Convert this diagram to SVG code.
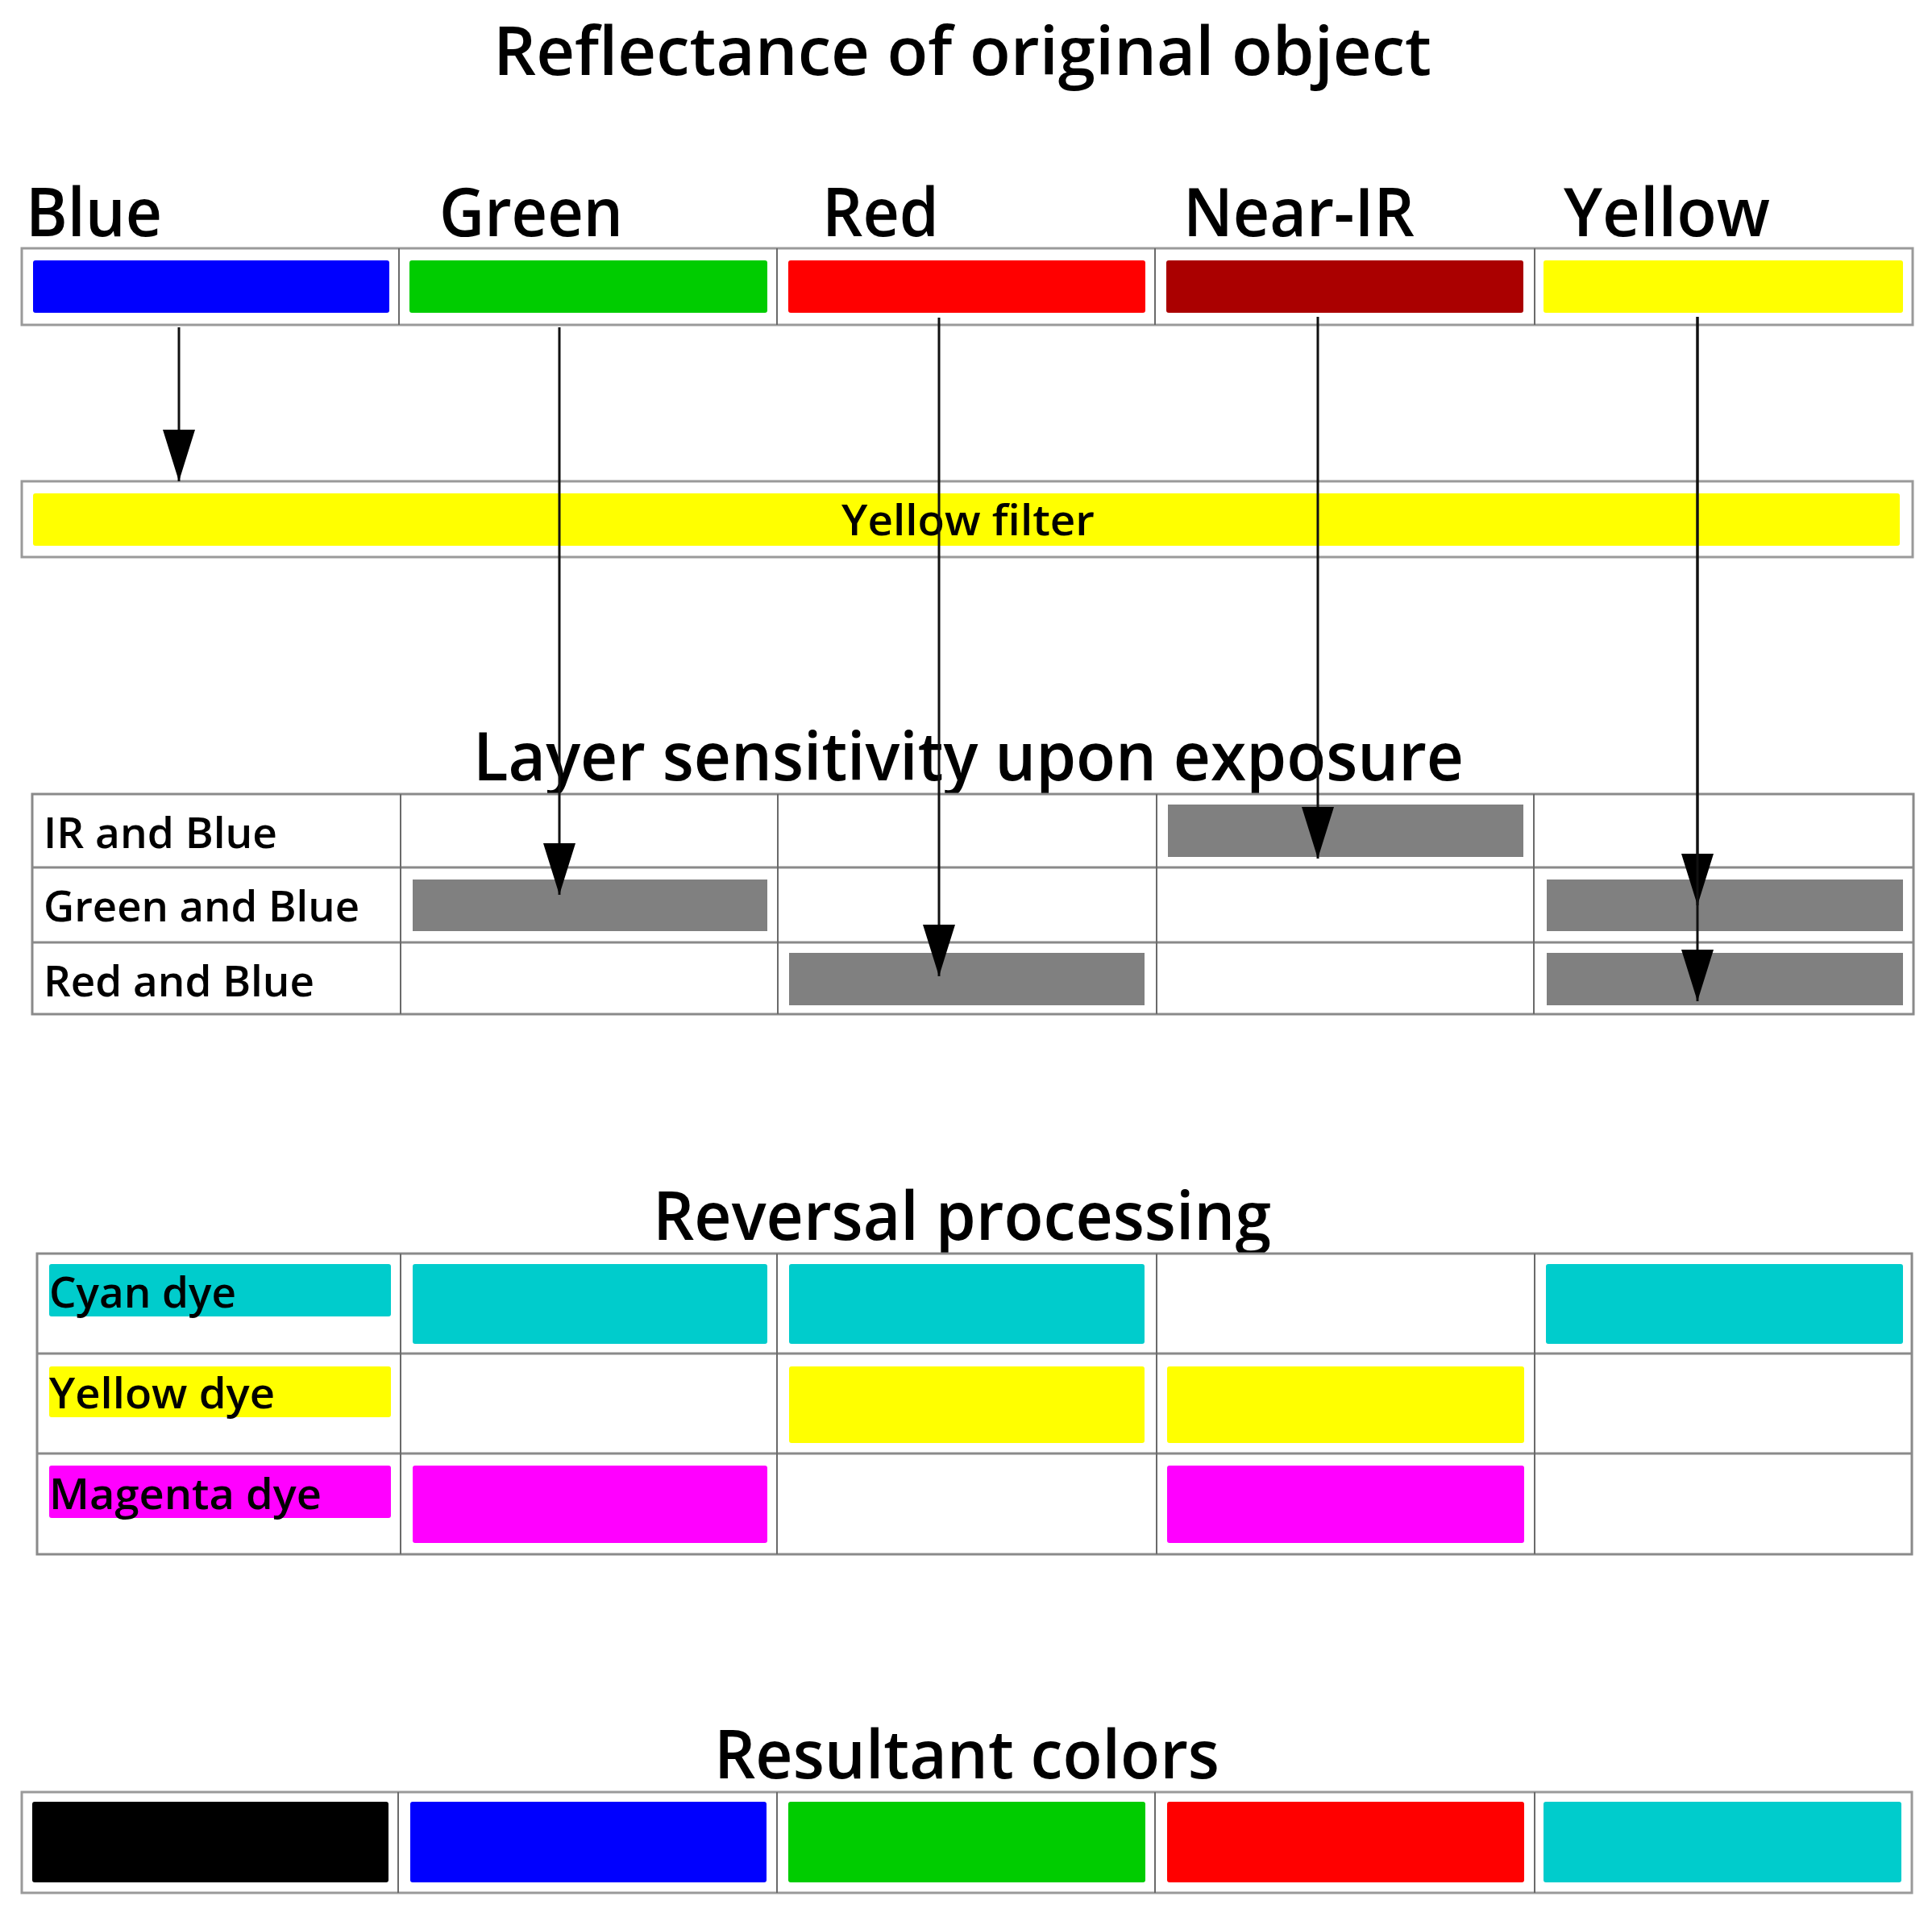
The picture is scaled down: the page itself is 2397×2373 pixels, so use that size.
<svg xmlns="http://www.w3.org/2000/svg" width="2397" height="2373" viewBox="0 0 2397 2373">
<defs>
<style>
.title{font-family:"Open Sans","DejaVu Sans",sans-serif;font-size:84px;font-weight:600;fill:#000}
.lbl{font-family:"Open Sans","DejaVu Sans",sans-serif;font-size:52px;font-weight:600;fill:#000}
.frame{fill:#fff;stroke:#9a9a9a;stroke-width:3}
.div{stroke:#6a6a6a;stroke-width:2;fill:none}
.grid{stroke:#8a8a8a;stroke-width:3;fill:none}
.bar{stroke:none}
.conn{stroke:#111;stroke-width:3;fill:none;marker-end:url(#ah)}
</style>
<marker id="ah" markerUnits="userSpaceOnUse" markerWidth="66" markerHeight="44" refX="64" refY="21" orient="auto">
<path d="M0,1 L64,21 L0,41 Z" fill="#000"/>
</marker>
</defs>
<rect width="2397" height="2373" fill="#fff"/>

<g id="title-reflectance">
<text class="title" x="612" y="93" textLength="1164" lengthAdjust="spacingAndGlyphs">Reflectance of original object</text>
</g>

<g id="reflectance-row">
<text class="title" x="32" y="293" textLength="169" lengthAdjust="spacingAndGlyphs">Blue</text>
<text class="title" x="545" y="293" textLength="228" lengthAdjust="spacingAndGlyphs">Green</text>
<text class="title" x="1020" y="293" textLength="145" lengthAdjust="spacingAndGlyphs">Red</text>
<text class="title" x="1468" y="293" textLength="287" lengthAdjust="spacingAndGlyphs">Near-IR</text>
<text class="title" x="1940" y="293" textLength="256" lengthAdjust="spacingAndGlyphs">Yellow</text>
<rect class="frame" x="27" y="308" width="2346" height="95"/>
<path class="div" d="M495,308V403M964,308V403M1433,308V403M1904,308V403"/>
<rect class="bar" x="41" y="323" width="442" height="65" rx="3" fill="#0000ff"/>
<rect class="bar" x="508" y="323" width="444" height="65" rx="3" fill="#00cc00"/>
<rect class="bar" x="978" y="323" width="443" height="65" rx="3" fill="#ff0000"/>
<rect class="bar" x="1447" y="323" width="443" height="65" rx="3" fill="#aa0000"/>
<rect class="bar" x="1915" y="323" width="446" height="65" rx="3" fill="#ffff00"/>
</g>

<g id="yellow-filter">
<rect class="frame" x="27" y="597" width="2346" height="94"/>
<rect class="bar" x="41" y="612" width="2316" height="65" rx="3" fill="#ffff00"/>
<text class="lbl" x="1044" y="664" textLength="314" lengthAdjust="spacingAndGlyphs">Yellow filter</text>
</g>

<g id="layer-sensitivity">
<text class="title" x="587" y="968" textLength="1229" lengthAdjust="spacingAndGlyphs">Layer sensitivity upon exposure</text>
<rect x="40" y="985" width="2334" height="273" fill="#fff" stroke="#8a8a8a" stroke-width="3"/>
<path class="grid" d="M40,1076H2374M40,1169H2374"/>
<path class="div" d="M497,985V1258M965,985V1258M1435,985V1258M1903,985V1258"/>
<text class="lbl" x="54" y="1052" textLength="290" lengthAdjust="spacingAndGlyphs">IR and Blue</text>
<text class="lbl" x="54" y="1143" textLength="392" lengthAdjust="spacingAndGlyphs">Green and Blue</text>
<text class="lbl" x="54" y="1236" textLength="336" lengthAdjust="spacingAndGlyphs">Red and Blue</text>
<rect class="bar" x="1449" y="998" width="441" height="65" fill="#808080"/>
<rect class="bar" x="512" y="1091" width="440" height="64" fill="#808080"/>
<rect class="bar" x="1919" y="1091" width="442" height="64" fill="#808080"/>
<rect class="bar" x="979" y="1182" width="441" height="65" fill="#808080"/>
<rect class="bar" x="1919" y="1182" width="442" height="65" fill="#808080"/>
</g>

<g id="reversal-processing">
<text class="title" x="810" y="1538" textLength="767" lengthAdjust="spacingAndGlyphs">Reversal processing</text>
<rect x="46" y="1555" width="2326" height="373" fill="#fff" stroke="#8a8a8a" stroke-width="3"/>
<path class="grid" d="M46,1679H2372M46,1803H2372"/>
<path class="div" d="M497,1555V1928M964,1555V1928M1435,1555V1928M1904,1555V1928"/>
<rect class="bar" x="61" y="1568" width="424" height="65" rx="3" fill="#00cccc"/>
<rect class="bar" x="61" y="1695" width="424" height="63" rx="3" fill="#ffff00"/>
<rect class="bar" x="61" y="1818" width="424" height="65" rx="3" fill="#ff00ff"/>
<text class="lbl" x="61" y="1622" textLength="232" lengthAdjust="spacingAndGlyphs">Cyan dye</text>
<text class="lbl" x="61" y="1747" textLength="280" lengthAdjust="spacingAndGlyphs">Yellow dye</text>
<text class="lbl" x="61" y="1872" textLength="338" lengthAdjust="spacingAndGlyphs">Magenta dye</text>
<rect class="bar" x="512" y="1568" width="440" height="99" rx="3" fill="#00cccc"/>
<rect class="bar" x="979" y="1568" width="441" height="99" rx="3" fill="#00cccc"/>
<rect class="bar" x="1918" y="1568" width="443" height="99" rx="3" fill="#00cccc"/>
<rect class="bar" x="979" y="1695" width="441" height="95" rx="3" fill="#ffff00"/>
<rect class="bar" x="1448" y="1695" width="443" height="95" rx="3" fill="#ffff00"/>
<rect class="bar" x="512" y="1818" width="440" height="96" rx="3" fill="#ff00ff"/>
<rect class="bar" x="1448" y="1818" width="443" height="96" rx="3" fill="#ff00ff"/>
</g>

<g id="resultant-colors">
<text class="title" x="886" y="2206" textLength="627" lengthAdjust="spacingAndGlyphs">Resultant colors</text>
<rect class="frame" x="27" y="2223" width="2345" height="125"/>
<path class="div" d="M494,2223V2348M964,2223V2348M1433,2223V2348M1904,2223V2348"/>
<rect class="bar" x="40" y="2235" width="442" height="100" rx="3" fill="#000000"/>
<rect class="bar" x="509" y="2235" width="442" height="100" rx="3" fill="#0000ff"/>
<rect class="bar" x="978" y="2235" width="443" height="100" rx="3" fill="#00cc00"/>
<rect class="bar" x="1448" y="2235" width="443" height="100" rx="3" fill="#ff0000"/>
<rect class="bar" x="1915" y="2235" width="444" height="100" rx="3" fill="#00cccc"/>
</g>

<g id="connectors">
<line class="conn" x1="222" y1="406" x2="222" y2="597"/>
<line class="conn" x1="694" y1="406" x2="694" y2="1110"/>
<line class="conn" x1="1165" y1="394" x2="1165" y2="1211"/>
<line class="conn" x1="1635" y1="393" x2="1635" y2="1065"/>
<line class="conn" x1="2106" y1="393" x2="2106" y2="1123"/>
<line class="conn" x1="2106" y1="393" x2="2106" y2="1242"/>
</g>
</svg>
